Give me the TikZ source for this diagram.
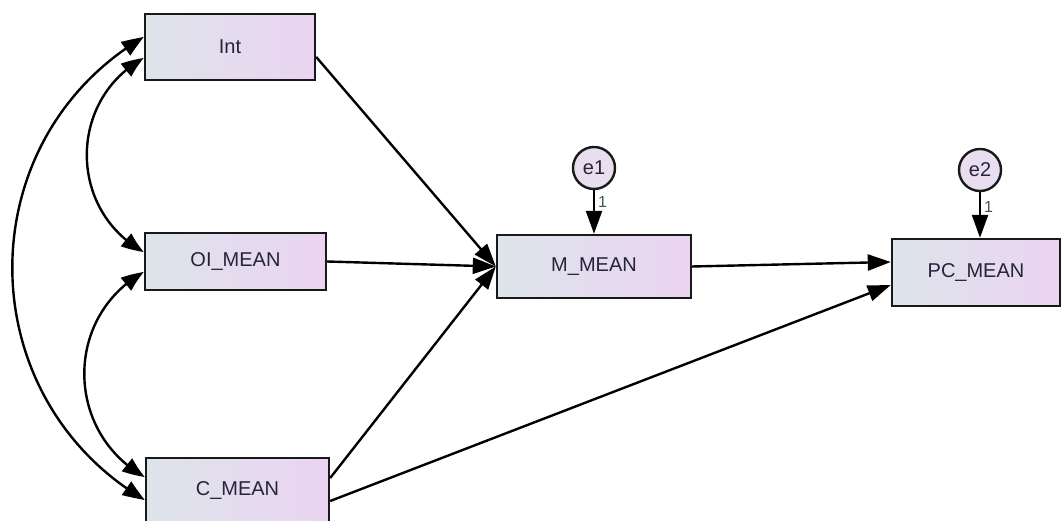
\documentclass[tikz,border=0pt]{standalone}
\usepackage{fontspec}
\setmainfont{Liberation Sans}
\usetikzlibrary{arrows.meta,bending,calc}
\definecolor{boxL}{HTML}{DDE4EA}
\definecolor{boxR}{HTML}{EBD4F2}
\definecolor{txt}{HTML}{24243A}
\definecolor{onecol}{HTML}{3C5A50}
\definecolor{circ}{HTML}{E8DEF0}
\begin{document}
\begin{tikzpicture}[x=1pt,y=-1pt,
  obs/.style={draw=black!90, line width=2.4pt, left color=boxL, right color=boxR, rectangle, inner sep=0pt, text=txt, font=\fontsize{20}{22}\selectfont},
  err/.style={draw=black!90, line width=2.4pt, fill=circ, circle, minimum size=42pt, inner sep=0pt, text=txt, font=\fontsize{20}{22}\selectfont},
  reg/.style={line width=2.4pt, -{Triangle[length=23pt,width=16pt]}},
  cov/.style={line width=2.4pt, {Triangle[length=22pt,width=16pt,bend]}-{Triangle[length=22pt,width=16pt,bend]}},
  onelbl/.style={text=onecol, font=\fontsize{16}{18}\selectfont, inner sep=0pt}]
\useasboundingbox (0,0) rectangle (1063,521);
\node[obs, minimum width=170pt, minimum height=66pt] (Int) at (230,47) {Int};
\node[obs, minimum width=181pt, minimum height=57pt] (OI) at (235.5,261.5) {OI\_MEAN};
\node[obs, minimum width=183pt, minimum height=65pt] (C) at (237.5,490.5) {C\_MEAN};
\node[obs, minimum width=194pt, minimum height=63pt] (M) at (594,266.5) {M\_MEAN};
\node[obs, minimum width=168pt, minimum height=67pt] (PC) at (976,272.5) {PC\_MEAN};
\node[err] (e1) at (594,168) {e1};
\node[err] (e2) at (980,170) {e2};
% regressions
\draw[reg] ($(Int.east)+(0,10)$) -- (M.west);
\draw[reg] (OI.east) -- (M.west);
\draw[reg] ($(C.east)+(0,-12.5)$) -- (M.west);
\draw[reg] ($(C.east)+(0,10.5)$) -- ($(PC.west)+(0,12.5)$);
\draw[reg] (M.east) -- ($(PC.west)+(0,-10.5)$);
\draw[reg] (e1.south) -- (M.north) node[onelbl, pos=0.28, right, xshift=3pt] {1};
\draw[reg] (e2.south) -- (e2.south |- PC.north) node[onelbl, pos=0.32, right, xshift=3pt] {1};
% covariances
\draw[cov] ($(Int.west)+(0,-10)$) .. controls +(-176,104) and +(-176,-104) .. ($(C.west)+(0,9.5)$);
\draw[cov] ($(Int.west)+(0,11)$) .. controls +(-76,42) and +(-76,-42) .. ($(OI.west)+(0,-9.5)$);
\draw[cov] ($(OI.west)+(0,10.5)$) .. controls +(-80,45) and +(-80,-45) .. ($(C.west)+(0,-13.5)$);
\end{tikzpicture}
\end{document}
